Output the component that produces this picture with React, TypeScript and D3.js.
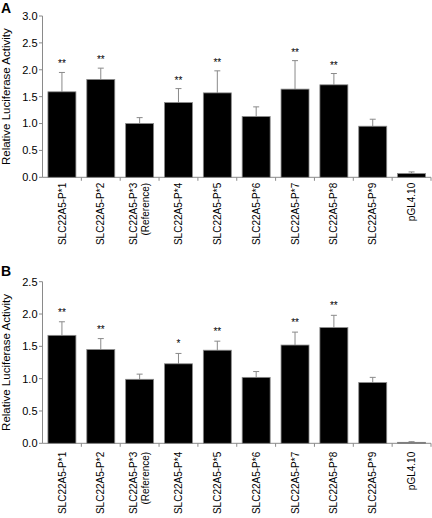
import React from "react";
import * as d3 from "d3";

const categories: string[][] = [
  ["SLC22A5-P*1"],
  ["SLC22A5-P*2"],
  ["SLC22A5-P*3", "(Reference)"],
  ["SLC22A5-P*4"],
  ["SLC22A5-P*5"],
  ["SLC22A5-P*6"],
  ["SLC22A5-P*7"],
  ["SLC22A5-P*8"],
  ["SLC22A5-P*9"],
  ["pGL4.10"],
];

const valuesA = [1.59, 1.82, 1.0, 1.39, 1.57, 1.13, 1.64, 1.72, 0.95, 0.07];
const errorsA = [0.36, 0.21, 0.11, 0.26, 0.41, 0.18, 0.53, 0.21, 0.13, 0.03];
const starsA = ["**", "**", "", "**", "**", "", "**", "**", "", ""];
const ticksA = [0, 0.5, 1.0, 1.5, 2.0, 2.5, 3.0];

const valuesB = [1.67, 1.45, 0.99, 1.23, 1.44, 1.02, 1.52, 1.79, 0.94, 0.015];
const errorsB = [0.21, 0.17, 0.08, 0.16, 0.14, 0.09, 0.2, 0.19, 0.08, 0.01];
const starsB = ["**", "**", "", "*", "**", "", "**", "**", "", ""];
const ticksB = [0, 0.5, 1.0, 1.5, 2.0, 2.5];

const FONT = "'Liberation Sans', Arial, Helvetica, sans-serif";
const AXIS = "#8a8a8a";

type PanelProps = {
  letter: string;
  letterY: number;
  values: number[];
  errors: number[];
  stars: string[];
  ticks: number[];
  yTop: number;
  yBottom: number;
  labelGap: number;
  starGap: number;
};

function Panel({ letter, letterY, values, errors, stars, ticks, yTop, yBottom, labelGap, starGap }: PanelProps) {
  const x0 = 42.5;
  const x1 = 431;
  const n = categories.length;
  const x = d3
    .scaleBand<number>()
    .domain(d3.range(n))
    .range([x0, x1])
    .paddingInner(0.28)
    .paddingOuter(0.14);
  const y = d3
    .scaleLinear()
    .domain([0, ticks[ticks.length - 1]])
    .range([yBottom, yTop]);
  const step = x.step();
  const bw = x.bandwidth();
  const cy = (yTop + yBottom) / 2;

  return (
    <g fontFamily={FONT}>
      <text x={1} y={letterY} fontSize={14} fontWeight="bold" fill="#000">
        {letter}
      </text>
      <text
        transform={`translate(9.5,${cy}) rotate(-90)`}
        textAnchor="middle"
        fontSize={11.5}
        fill="#000"
      >
        Relative Luciferase Activity
      </text>
      {/* y axis */}
      <line x1={x0} x2={x0} y1={yTop} y2={yBottom} stroke={AXIS} strokeWidth={1} />
      {ticks.map((t) => (
        <g key={t}>
          <line x1={x0 - 3.5} x2={x0} y1={y(t)} y2={y(t)} stroke={AXIS} strokeWidth={1} />
          <text x={37.5} y={y(t)} dy="0.36em" textAnchor="end" fontSize={11} fill="#000">
            {t.toFixed(1)}
          </text>
        </g>
      ))}
      {/* x axis */}
      <line x1={x0} x2={x1} y1={yBottom} y2={yBottom} stroke={AXIS} strokeWidth={1} />
      {d3.range(1, n + 1).map((i) => (
        <line
          key={i}
          x1={x0 + i * step}
          x2={x0 + i * step}
          y1={yBottom}
          y2={yBottom + 3.5}
          stroke={AXIS}
          strokeWidth={1}
        />
      ))}
      {/* bars */}
      {values.map((v, i) => {
        const bx = x(i) as number;
        const cx = bx + bw / 2;
        const top = y(v);
        const et = y(v + errors[i]);
        return (
          <g key={i}>
            <line x1={cx} x2={cx} y1={top} y2={et} stroke={AXIS} strokeWidth={1} />
            <line x1={cx - 3} x2={cx + 3} y1={et} y2={et} stroke={AXIS} strokeWidth={1} />
            <rect
              x={bx}
              y={top}
              width={bw}
              height={yBottom - top}
              fill="#000"
              stroke={AXIS}
              strokeWidth={0.8}
            />
            {stars[i] && (
              <text x={cx} y={et - starGap} textAnchor="middle" fontSize={10} fill="#000">
                {stars[i]}
              </text>
            )}
          </g>
        );
      })}
      {/* category labels */}
      {categories.map((lines, i) => {
        const cx = (x(i) as number) + bw / 2;
        const spacing = 12;
        return lines.map((ln, j) => {
          const off = (j - (lines.length - 1) / 2) * spacing;
          return (
            <text
              key={`${i}-${j}`}
              transform={`translate(${cx + off},${yBottom + labelGap}) rotate(-90)`}
              textAnchor="end"
              dy="0.36em"
              fontSize={10}
              fill="#000"
            >
              {ln}
            </text>
          );
        });
      })}
    </g>
  );
}

export default function App() {
  return (
    <svg
      width={432}
      height={518}
      style={{ position: "absolute", left: 0, top: 0, background: "#fff" }}
    >
      <rect width={432} height={518} fill="#fff" />
      <Panel
        letter="A"
        letterY={13}
        values={valuesA}
        errors={errorsA}
        stars={starsA}
        ticks={ticksA}
        yTop={16}
        yBottom={177.3}
        labelGap={5.5}
        starGap={5}
      />
      <Panel
        letter="B"
        letterY={276}
        values={valuesB}
        errors={errorsB}
        stars={starsB}
        ticks={ticksB}
        yTop={281.7}
        yBottom={443.3}
        labelGap={8.5}
        starGap={6}
      />
    </svg>
  );
}
